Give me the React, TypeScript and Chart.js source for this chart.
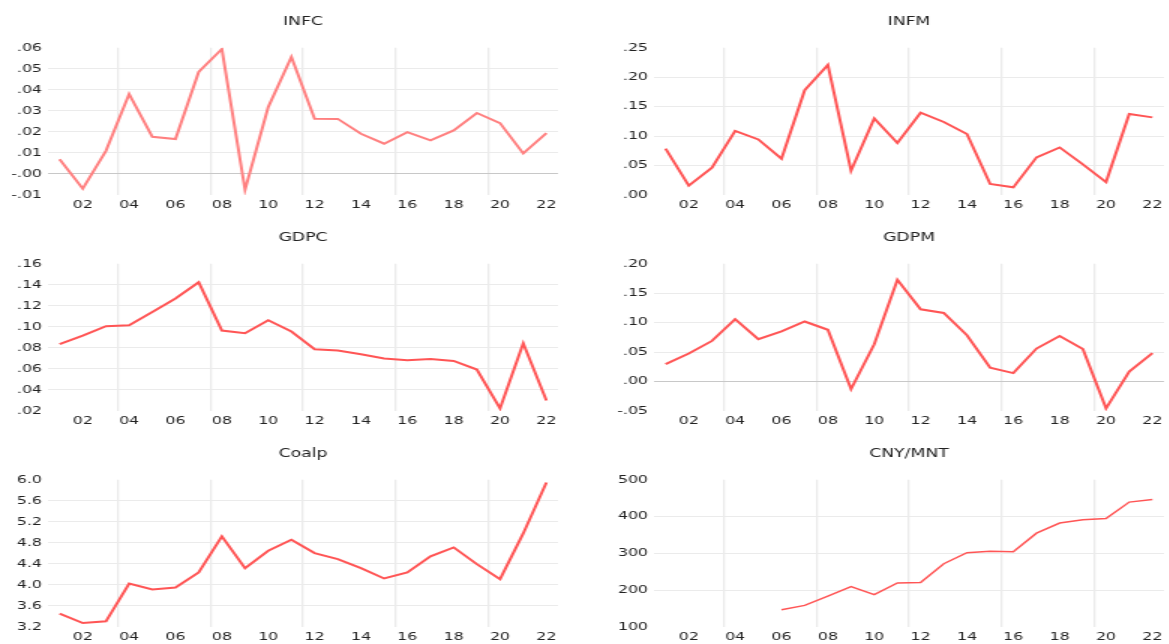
import React, { useEffect, useRef } from 'react';
import { Chart, registerables } from 'chart.js';

Chart.register(...registerables);

const years = [2001, 2002, 2003, 2004, 2005, 2006, 2007, 2008, 2009, 2010, 2011, 2012, 2013, 2014, 2015, 2016, 2017, 2018, 2019, 2020, 2021, 2022];
const xLabelYears = [2002, 2004, 2006, 2008, 2010, 2012, 2014, 2016, 2018, 2020, 2022];
const xGridYears = [2003.5, 2007.5, 2011.5, 2015.5, 2019.5];

const infc = [0.007, -0.007, 0.011, 0.038, 0.0177, 0.0166, 0.0485, 0.0594, -0.0075, 0.0318, 0.0556, 0.0263, 0.0262, 0.0191, 0.0144, 0.0199, 0.016, 0.0207, 0.029, 0.0242, 0.0098, 0.0194];
const infm = [0.0786, 0.0158, 0.0464, 0.109, 0.0944, 0.0616, 0.178, 0.221, 0.0413, 0.13, 0.0883, 0.1397, 0.124, 0.1036, 0.0187, 0.013, 0.0639, 0.0808, 0.052, 0.022, 0.1375, 0.1318];
const gdpc = [0.0835, 0.0917, 0.1006, 0.1016, 0.1141, 0.127, 0.1425, 0.0965, 0.094, 0.1063, 0.0956, 0.0787, 0.0775, 0.074, 0.07, 0.0683, 0.0695, 0.0676, 0.0594, 0.0225, 0.0844, 0.03];
const gdpm = [0.0296, 0.0476, 0.069, 0.106, 0.0719, 0.0854, 0.102, 0.088, -0.0128, 0.0634, 0.1729, 0.1227, 0.1165, 0.0787, 0.0234, 0.0143, 0.056, 0.0775, 0.0554, -0.0455, 0.0171, 0.0482];
const coalp = [3.455, 3.276, 3.308, 4.027, 3.913, 3.951, 4.237, 4.924, 4.32, 4.651, 4.861, 4.606, 4.492, 4.32, 4.123, 4.237, 4.543, 4.714, 4.396, 4.11, 4.98, 5.949];
const cnyMnt = [null, null, null, null, null, 147, 158.8, 184, 209.5, 187.8, 219.5, 221, 272, 301.8, 306, 304.5, 355, 382.4, 391.4, 395, 439.4, 446.6];

const STRETCH = 1.5;
const PANEL_W = 390;
const PANEL_H = 216;
const FONT = 'DejaVu Sans';

type PanelProps = {
  title: string;
  values: (number | null)[];
  yMin: number;
  yMax: number;
  yStep: number;
  decimals: number;
  strip: boolean;
  color: string;
  lineWidth: number;
  left: number;
  top: number;
  yWidth: number;
  padRight: number;
};

function Panel(p: PanelProps) {
  const ref = useRef<HTMLCanvasElement>(null);
  useEffect(() => {
    const fmt = (v: number) => {
      let s = v.toFixed(p.decimals);
      if (p.strip) s = s.replace(/^(-?)0\./, '$1.');
      return s;
    };
    const xTicks = [...xLabelYears, ...xGridYears].sort((a, b) => a - b);
    const chart = new Chart(ref.current as HTMLCanvasElement, {
      type: 'line',
      data: {
        datasets: [
          {
            data: years.map((x, i) => ({ x, y: p.values[i] })) as any,
            borderColor: p.color,
            borderWidth: p.lineWidth,
            pointRadius: 0,
            tension: 0,
            fill: false,
          },
        ],
      },
      options: {
        responsive: false,
        animation: false,
        events: [],
        layout: { padding: { top: 0, right: p.padRight, bottom: 0, left: 0 } },
        plugins: {
          legend: { display: false },
          tooltip: { enabled: false },
          title: {
            display: true,
            text: p.title,
            fullSize: false,
            color: '#222',
            font: { family: FONT, size: 11.5, weight: 'normal' },
            padding: { top: 15, bottom: 19 },
          },
        },
        scales: {
          x: {
            type: 'linear',
            min: 2000.5,
            max: 2022.5,
            afterBuildTicks: (s: any) => {
              s.ticks = xTicks.map((v) => ({ value: v }));
            },
            afterFit: (s: any) => {
              s.height = 21;
            },
            ticks: {
              autoSkip: false,
              maxRotation: 0,
              padding: 4,
              color: '#222',
              font: { family: FONT, size: 10.5 },
              callback: (v: any) => (Number.isInteger(v) ? String(v % 100).padStart(2, '0') : ''),
            },
            grid: {
              drawTicks: false,
              lineWidth: 1.3,
              color: (ctx: any) => (ctx.tick && !Number.isInteger(ctx.tick.value) ? '#ebebeb' : 'rgba(0,0,0,0)'),
            },
            border: { display: false },
          },
          y: {
            min: p.yMin,
            max: p.yMax,
            afterFit: (s: any) => {
              s.width = p.yWidth;
            },
            ticks: {
              stepSize: p.yStep,
              padding: 4,
              color: '#222',
              font: { family: FONT, size: 10.5 },
              callback: (v: any) => fmt(Number(v)),
            },
            grid: {
              drawTicks: false,
              lineWidth: 1,
              color: (ctx: any) => {
                const n = ctx.scale.ticks.length;
                if (ctx.index === 0 || ctx.index === n - 1) return 'rgba(0,0,0,0)';
                if (ctx.tick && Math.abs(ctx.tick.value) < 1e-9) return '#c8c8c8';
                return '#ebebeb';
              },
            },
            border: { display: false },
          },
        },
      } as any,
    });
    return () => chart.destroy();
  }, []);
  return (
    <div
      style={{
        position: 'absolute',
        left: p.left,
        top: p.top,
        width: PANEL_W,
        height: PANEL_H,
        transform: `scaleX(${STRETCH})`,
        transformOrigin: '0 0',
      }}
    >
      <canvas ref={ref} width={PANEL_W} height={PANEL_H} style={{ width: PANEL_W, height: PANEL_H }} />
    </div>
  );
}

export default function App() {
  const L = { left: 0, yWidth: 32, padRight: 18 };
  const R = { left: 585, yWidth: 46, padRight: 4 };
  return (
    <div style={{ position: 'absolute', left: 0, top: 0, width: 1169, height: 644, overflow: 'hidden', background: '#fff' }}>
      <Panel title="INFC" values={infc} yMin={-0.01} yMax={0.06} yStep={0.01} decimals={2} strip color="#ff8080" lineWidth={2} top={0} {...L} />
      <Panel title="INFM" values={infm} yMin={0} yMax={0.25} yStep={0.05} decimals={2} strip color="#ff5555" lineWidth={2} top={0} {...R} />
      <Panel title="GDPC" values={gdpc} yMin={0.02} yMax={0.16} yStep={0.02} decimals={2} strip color="#ff5555" lineWidth={2} top={216} {...L} />
      <Panel title="GDPM" values={gdpm} yMin={-0.05} yMax={0.2} yStep={0.05} decimals={2} strip color="#ff5555" lineWidth={2} top={216} {...R} />
      <Panel title="Coalp" values={coalp} yMin={3.2} yMax={6.0} yStep={0.4} decimals={1} strip={false} color="#ff5555" lineWidth={2} top={432} {...L} />
      <Panel title="CNY/MNT" values={cnyMnt} yMin={100} yMax={500} yStep={100} decimals={0} strip={false} color="#ff5555" lineWidth={1.5} top={432} {...R} />
    </div>
  );
}
